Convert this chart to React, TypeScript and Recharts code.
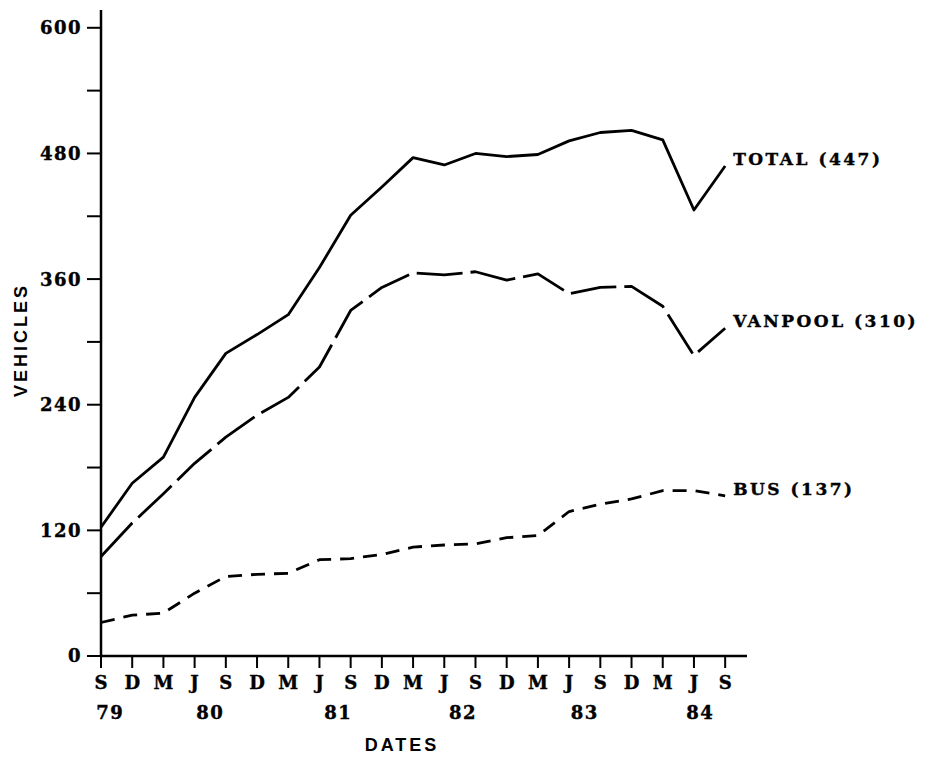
import { LineChart, Line, XAxis, YAxis } from "recharts"

// quarters from Sep 1979 to Sep 1984
const months = ["S", "D", "M", "J", "S", "D", "M", "J", "S", "D", "M", "J", "S", "D", "M", "J", "S", "D", "M", "J", "S"]
const yearLabels = ["79", "80", "81", "82", "83", "84"]
const yearTicks = [0.3, 3.5, 7.6, 11.6, 15.5, 19.2]
const yTicks = [0, 60, 120, 180, 240, 300, 360, 420, 480, 540, 600]

const total = [123, 165, 190, 247, 289, 307, 326, 371, 421, 448, 476, 469, 480, 477, 479, 492, 500, 502, 493, 426, 468]
const vanpool = [95, 127, 155, 184, 209, 230, 247, 276, 330, 352, 366, 364, 367, 359, 365, 346, 352, 353, 334, 287, 313]
const bus = [32, 39, 41, 60, 76, 78, 79, 92, 93, 97, 104, 106, 107, 113, 115, 138, 145, 150, 158, 158, 153]

const seriesNames = ["TOTAL", "VANPOOL", "BUS"]
const latestCounts = [447, 310, 137]

const rows = months.map((m, i) => ({ idx: i, total: total[i], vanpool: vanpool[i], bus: bus[i] }))

const serif = "'DejaVu Serif', serif"
const sans = "'Liberation Sans', Arial, sans-serif"
const last = months.length - 1

function endLabel(k: number) {
    return (p: any) => {
        if (p.index !== last) return null
        return (
            <text x={p.x + 8} y={p.y - 7} dominantBaseline="central" fontFamily={serif} fontWeight="bold"
                fontSize={17} letterSpacing={2.5} fill="#000" stroke="#000" strokeWidth={0.4}>
                {`${seriesNames[k]} (${latestCounts[k]})`}
            </text>
        )
    }
}

export default function App() {
    return (
        <div style={{ position: "absolute", left: 0, top: 0, background: "#fff" }}>
            <LineChart width={931} height={757} data={rows} margin={{ top: 10, right: 184, bottom: 1, left: 41 }}>
                <XAxis
                    dataKey="idx"
                    type="number"
                    domain={[0, 20.7]}
                    ticks={months.map((_, i) => i)}
                    tickSize={12}
                    tickMargin={8}
                    height={40}
                    axisLine={{ stroke: "#000", strokeWidth: 2.5 }}
                    tickLine={{ stroke: "#000", strokeWidth: 2 }}
                    tick={(p: any) => (
                        <text x={p.x} y={p.y} dy="0.71em" textAnchor="middle" fontFamily={serif}
                            fontWeight="bold" fontSize={18} fill="#000" stroke="#000" strokeWidth={0.4}>
                            {months[p.payload.value]}
                        </text>
                    )}
                />
                <XAxis
                    xAxisId="yr"
                    dataKey="idx"
                    type="number"
                    domain={[0, 20.7]}
                    ticks={yearTicks}
                    axisLine={false}
                    tickLine={false}
                    tickSize={0}
                    tickMargin={10}
                    height={60}
                    tick={(p: any) => (
                        <text x={p.x} y={p.y} dy="0.71em" textAnchor="middle" fontFamily={serif}
                            fontWeight="bold" fontSize={18} letterSpacing={1.5} fill="#000" stroke="#000"
                            strokeWidth={0.4}>
                            {yearLabels[yearTicks.indexOf(p.payload.value)]}
                        </text>
                    )}
                    label={{
                        content: ({ viewBox }: any) => (
                            <text x={viewBox.x + viewBox.width / 2 - 22} y={viewBox.y + 49} textAnchor="middle"
                                dominantBaseline="central" fontFamily={sans} fontWeight="bold" fontSize={18}
                                letterSpacing={3} fill="#000">
                                DATES
                            </text>
                        ),
                    }}
                />
                <YAxis
                    type="number"
                    domain={[0, 617]}
                    ticks={yTicks}
                    width={60}
                    tickSize={14}
                    tickMargin={5}
                    axisLine={{ stroke: "#000", strokeWidth: 2.5 }}
                    tickLine={{ stroke: "#000", strokeWidth: 2 }}
                    tick={(p: any) => (
                        <text x={p.x} y={p.y} dy="0.36em" textAnchor="end" fontFamily={serif}
                            fontWeight="bold" fontSize={18} letterSpacing={1.5} fill="#000" stroke="#000"
                            strokeWidth={0.4}>
                            {p.payload.value % 120 === 0 ? p.payload.value : ""}
                        </text>
                    )}
                    label={{
                        content: ({ viewBox }: any) => {
                            const cx = viewBox.x - 20
                            const cy = viewBox.y + viewBox.height / 2 + 7
                            return (
                                <text x={cx} y={cy} transform={`rotate(-90 ${cx} ${cy})`} textAnchor="middle"
                                    dominantBaseline="central" fontFamily={sans} fontWeight="bold" fontSize={18}
                                    letterSpacing={3} fill="#000">
                                    VEHICLES
                                </text>
                            )
                        },
                    }}
                />
                <Line dataKey="total" stroke="#000" strokeWidth={2.8} dot={false} isAnimationActive={false}
                    strokeLinejoin="round" label={endLabel(0)} />
                <Line dataKey="vanpool" stroke="#000" strokeWidth={2.8} strokeDasharray="46 8" dot={false}
                    isAnimationActive={false} strokeLinejoin="round" label={endLabel(1)} />
                <Line dataKey="bus" stroke="#000" strokeWidth={2.8} strokeDasharray="14 9" dot={false}
                    isAnimationActive={false} strokeLinejoin="round" label={endLabel(2)} />
            </LineChart>
        </div>
    )
}
